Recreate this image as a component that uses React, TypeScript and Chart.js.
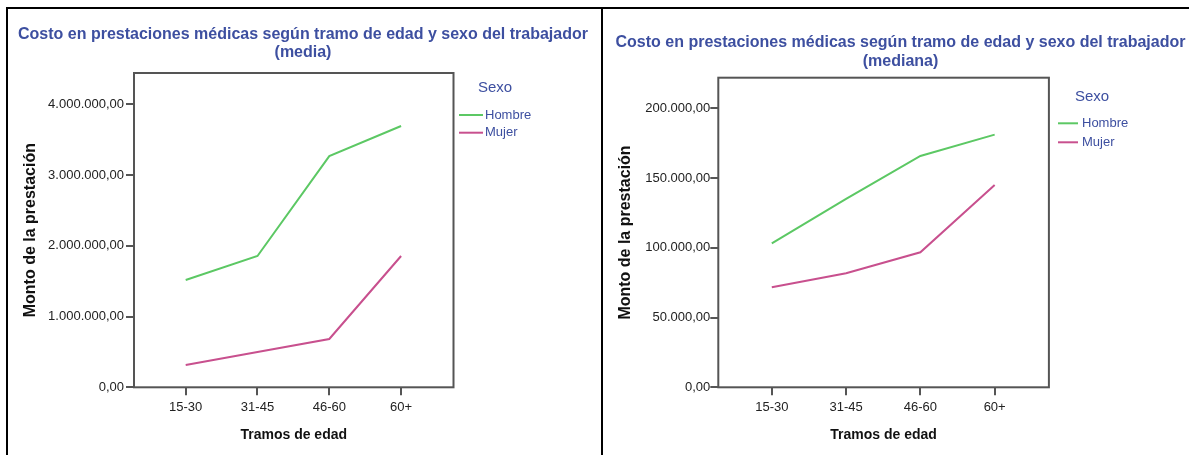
import React, { useEffect, useRef } from "react";
import { Chart, registerables } from "chart.js";

Chart.register(...registerables);

const categories = ["15-30", "31-45", "46-60", "60+"];
const seriesNames = ["Hombre", "Mujer"];
const mediaHombre = [1518000, 1857000, 3270000, 3696000];
const mediaMujer = [315000, 500000, 683000, 1857000];
const medianaHombre = [103200, 135000, 165800, 181100];
const medianaMujer = [71700, 81700, 96800, 145000];
const mediaTicks = [0, 1000000, 2000000, 3000000, 4000000];
const medianaTicks = [0, 50000, 100000, 150000, 200000];
const legendTitle = "Sexo";
const titleLine1 = "Costo en prestaciones médicas según tramo de edad y sexo del trabajador";
const mediaSubtitle = "(media)";
const medianaSubtitle = "(mediana)";
const yTitle = "Monto de la prestación";
const xTitle = "Tramos de edad";

const FONT = '"Liberation Sans", Arial, sans-serif';
const BLUE = "#3d4fa0";
const AXIS = "#555555";
const GREEN = "#5cc864";
const PINK = "#c8508e";

function fmt(v: number): string {
  const s = Math.round(v).toString();
  const withDots = s.replace(/\B(?=(\d{3})+(?!\d))/g, ".");
  return withDots + ",00";
}

const decoPlugin = {
  id: "deco",
  afterDraw(chart: any, _args: any, opts: any) {
    const { ctx, chartArea: a } = chart;
    ctx.save();
    ctx.strokeStyle = AXIS;
    ctx.lineWidth = 2;
    ctx.strokeRect(a.left, a.top, a.right - a.left, a.bottom - a.top);
    ctx.fillStyle = BLUE;
    ctx.font = `bold 16px ${FONT}`;
    ctx.textAlign = "center";
    ctx.textBaseline = "middle";
    (opts.title as string[]).forEach((t, i) =>
      ctx.fillText(t, opts.titleX, opts.titleY + i * opts.titleGap)
    );
    ctx.textAlign = "left";
    ctx.font = `15px ${FONT}`;
    ctx.fillText(opts.legendTitle, opts.legendTitleX, opts.legendTitleY);
    ctx.font = `13px ${FONT}`;
    chart.data.datasets.forEach((ds: any, i: number) => {
      const y = opts.legendY + i * opts.legendGap;
      ctx.strokeStyle = ds.borderColor;
      ctx.lineWidth = 2;
      ctx.beginPath();
      ctx.moveTo(opts.lineX, y);
      ctx.lineTo(opts.lineX + opts.lineLen, y);
      ctx.stroke();
      ctx.fillStyle = BLUE;
      ctx.fillText(ds.label, opts.textX, y);
    });
    ctx.restore();
  },
};

type PanelProps = {
  left: number;
  width: number;
  hombre: number[];
  mujer: number[];
  yTicks: number[];
  yMax: number;
  pad: { left: number; top: number; right: number; bottom: number };
  yWidth: number;
  xHeight: number;
  yTitlePad: number;
  yTickPad: number;
  deco: any;
};

function Panel(p: PanelProps) {
  const ref = useRef<HTMLCanvasElement>(null);
  useEffect(() => {
    if (!ref.current) return;
    const chart = new Chart(ref.current, {
      type: "line",
      data: {
        datasets: [
          {
            label: seriesNames[0],
            data: categories.map((_, i) => ({ x: i, y: p.hombre[i] })),
            borderColor: GREEN,
            backgroundColor: GREEN,
            borderWidth: 2,
            pointRadius: 0,
            tension: 0,
          },
          {
            label: seriesNames[1],
            data: categories.map((_, i) => ({ x: i, y: p.mujer[i] })),
            borderColor: PINK,
            backgroundColor: PINK,
            borderWidth: 2,
            pointRadius: 0,
            tension: 0,
          },
        ],
      },
      options: {
        animation: false,
        responsive: false,
        devicePixelRatio: 1,
        layout: { padding: p.pad },
        plugins: {
          legend: { display: false },
          title: { display: false },
          tooltip: { enabled: false },
          deco: p.deco,
        } as any,
        scales: {
          x: {
            type: "linear",
            min: -0.72,
            max: 3.73,
            afterBuildTicks: (s: any) => {
              s.ticks = categories.map((_, i) => ({ value: i }));
            },
            afterFit: (s: any) => {
              s.height = p.xHeight;
            },
            ticks: {
              callback: (v: any) => categories[Math.round(Number(v))] ?? "",
              color: "#222",
              font: { family: FONT, size: 13 },
              padding: 4,
              maxRotation: 0,
              autoSkip: false,
            },
            grid: {
              display: true,
              drawOnChartArea: false,
              drawTicks: true,
              tickLength: 8,
              color: AXIS,
              lineWidth: 2,
            },
            border: { display: false },
            title: {
              display: true,
              text: xTitle,
              color: "#111",
              font: { family: FONT, size: 14, weight: "bold" },
              padding: { top: 0, bottom: 1.6 },
            },
          },
          y: {
            type: "linear",
            min: 0,
            max: p.yMax,
            afterBuildTicks: (s: any) => {
              s.ticks = p.yTicks.map((v) => ({ value: v }));
            },
            afterFit: (s: any) => {
              s.width = p.yWidth;
            },
            ticks: {
              callback: (v: any) => fmt(Number(v)),
              color: "#222",
              font: { family: FONT, size: 13 },
              padding: p.yTickPad,
            },
            grid: {
              display: true,
              drawOnChartArea: false,
              drawTicks: true,
              tickLength: 8,
              color: AXIS,
              lineWidth: 2,
            },
            border: { display: false },
            title: {
              display: true,
              text: yTitle,
              color: "#111",
              font: { family: FONT, size: 16, weight: "bold" },
              padding: { top: p.yTitlePad, bottom: 0 },
            },
          },
        },
      } as any,
      plugins: [decoPlugin as any],
    });
    return () => chart.destroy();
  }, []);
  return (
    <canvas
      ref={ref}
      width={p.width}
      height={455}
      style={{ position: "absolute", left: p.left, top: 0, width: p.width, height: 455 }}
    />
  );
}

export default function App() {
  return (
    <div
      style={{
        position: "fixed",
        left: 0,
        top: 0,
        width: 1189,
        height: 455,
        background: "#fff",
        overflow: "hidden",
      }}
    >
      <div style={{ position: "absolute", left: 6, top: 7, width: 1183, height: 2, background: "#000" }} />
      <div style={{ position: "absolute", left: 6, top: 7, width: 2, height: 448, background: "#000" }} />
      <div style={{ position: "absolute", left: 601, top: 7, width: 2, height: 448, background: "#000" }} />
      <Panel
        left={0}
        width={601}
        hombre={mediaHombre}
        mujer={mediaMujer}
        yTicks={mediaTicks}
        yMax={4445000}
        pad={{ left: 8, top: 73, right: 147.5, bottom: 10 }}
        yWidth={126}
        xHeight={57.7}
        yTitlePad={13.4}
        yTickPad={2}
        deco={{
          title: [titleLine1, mediaSubtitle],
          titleX: 303,
          titleY: 35,
          titleGap: 18,
          legendTitle,
          legendTitleX: 478,
          legendTitleY: 88,
          lineX: 459,
          lineLen: 24,
          textX: 485,
          legendY: 115,
          legendGap: 17.7,
        }}
      />
      <Panel
        left={603}
        width={586}
        hombre={medianaHombre}
        mujer={medianaMujer}
        yTicks={medianaTicks}
        yMax={221900}
        pad={{ left: 8, top: 77.7, right: 140.1, bottom: 10 }}
        yWidth={107.3}
        xHeight={57.7}
        yTitlePad={5.1}
        yTickPad={0}
        deco={{
          title: [titleLine1, medianaSubtitle],
          titleX: 297.5,
          titleY: 43,
          titleGap: 18.7,
          legendTitle,
          legendTitleX: 472,
          legendTitleY: 96.7,
          lineX: 455,
          lineLen: 20,
          textX: 479,
          legendY: 123.3,
          legendGap: 19,
        }}
      />
    </div>
  );
}
